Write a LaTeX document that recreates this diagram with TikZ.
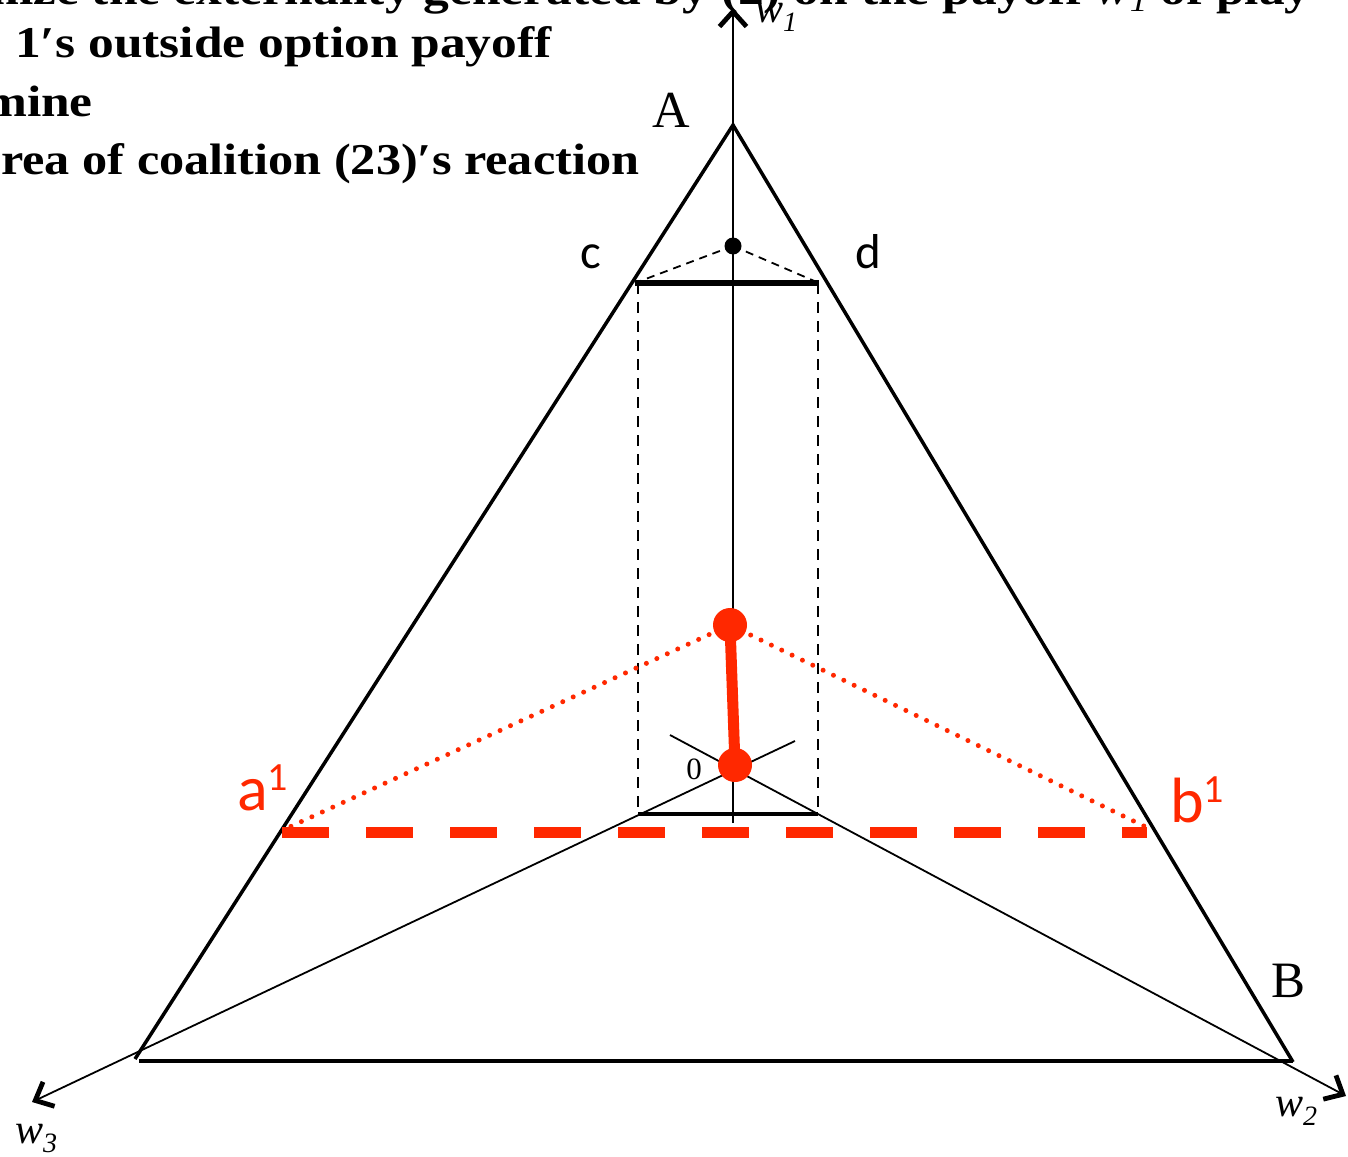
\documentclass[tikz,border=0pt]{standalone}
\usepackage{fontspec}
\setmainfont{Liberation Serif}
\newfontfamily\topfont[FakeStretch=1.17]{Liberation Serif}
\newfontfamily\calib{Carlito}
\usetikzlibrary{arrows.meta}
\definecolor{myred}{RGB}{255,40,0}
\begin{document}
\begin{tikzpicture}[x=1pt,y=-1pt,
  side/.style={line width=3.5pt},
  axis/.style={line width=1.8pt,-{Straight Barb[length=15pt,width=27pt,line width=4.8pt]}},
  vdash/.style={line width=2.5pt,dash pattern=on 11pt off 8pt},
  sdash/.style={line width=1.8pt,dash pattern=on 8pt off 6pt},
  reddot/.style={circle,fill=myred,inner sep=0pt,minimum size=34pt},
  reddots/.style={myred,line width=5pt,line cap=round,dash pattern=on 0pt off 11.5pt},
  toptext/.style={inner sep=0pt,font=\topfont\bfseries\fontsize{44}{44}\selectfont},
  lbl/.style={inner sep=0pt},
]
\useasboundingbox (0,0) rectangle (1348,1156);
\clip (0,0) rectangle (1348,1156);
\fill[white] (0,0) rectangle (1348,1156);

% key points
\coordinate (A) at (733,125);
\coordinate (L) at (135,1059);
\coordinate (R) at (1293,1062);
\coordinate (BL) at (139,1061);
\coordinate (BR) at (1293,1061);
\coordinate (w1base) at (733,823);
\coordinate (w1tip) at (733,8);
\coordinate (w3back) at (795,741);
\coordinate (w3tip) at (32,1102);
\coordinate (w2back) at (670,735);
\coordinate (w2tip) at (1346,1096);
\coordinate (c1) at (635,283);
\coordinate (d1) at (819,283);
\coordinate (ct) at (638,283);
\coordinate (dt) at (818,283);
\coordinate (cb) at (638,814);
\coordinate (db) at (818,814);
\coordinate (Pc) at (730,625);
\coordinate (Qc) at (735,765);
\coordinate (a1) at (283,830);
\coordinate (b1) at (1150,829);
\coordinate (ra) at (282,832);
\coordinate (rb) at (1147,832);

% header text
\node[toptext,anchor=base west] (t1) at (-24,5) {mize the externality generated by (2) on the payoff {\mdseries\itshape w}\raisebox{-7pt}{\mdseries\itshape\fontsize{30}{30}\selectfont 1} of play};
\node[toptext,anchor=base west] (t2) at (15,57) {1′s outside option payoff};
\node[toptext,anchor=base east] (t3) at (93,116) {mine};
\node[toptext,anchor=base west] (t4) at (1,174) {\scalebox{0.977}[1]{rea of coalition (23)′s reaction}};

% axes
\draw[axis] (w1base) -- (w1tip);
\draw[axis] (w3back) -- (w3tip);
\draw[axis] (w2back) -- (w2tip);

% triangle
\draw[side] (L) -- (A) -- (R);
\draw[side] (BL) -- (BR);

% rectangle c-d
\draw[vdash] (ct) -- (cb);
\draw[vdash] (dt) -- (db);
\draw[line width=4pt] (cb) -- (db);
\draw[line width=6.5pt] (c1) -- (d1);
\node[circle,fill=black,inner sep=0pt,minimum size=17pt] (top) at (733,246) {};
\draw[sdash] (top.center) -- (c1);
\draw[sdash] (top.center) -- (d1);

% red elements
\draw[myred,line width=11pt,dash pattern=on 47pt off 37pt] (ra) -- (rb);
\draw[reddots] (Pc) -- (a1);
\draw[reddots] (Pc) -- (b1);
\draw[myred,line width=11pt] (Pc) -- (Qc);
\node[reddot] (P) at (Pc) {};
\node[reddot] (Q) at (Qc) {};

% labels
\node[lbl,anchor=base,font=\fontsize{52}{52}\selectfont] (lA) at (671,127) {A};
\node[lbl,anchor=base,font=\fontsize{51}{51}\selectfont] (lB) at (1288,997) {B};
\node[lbl,anchor=base,font=\calib\fontsize{49}{49}\selectfont] (lc) at (591,268) {c};
\node[lbl,anchor=base,font=\calib\fontsize{49}{49}\selectfont] (ld) at (868,268) {d};
\node[lbl,anchor=base,font=\fontsize{31}{31}\selectfont] (l0) at (694,779) {0};
\node[lbl,anchor=base west,text=myred,font=\calib\fontsize{64}{64}\selectfont] (la) at (237,810) {a\raisebox{20pt}{\fontsize{40}{40}\selectfont 1}};
\node[lbl,anchor=base west,text=myred,font=\calib\fontsize{64}{64}\selectfont] (lb) at (1170,822) {b\raisebox{20pt}{\fontsize{40}{40}\selectfont 1}};
\node[lbl,anchor=base west,font=\itshape\fontsize{42}{42}\selectfont] (lw1) at (755,23) {w\raisebox{-9pt}{\fontsize{28}{28}\selectfont 1}};
\node[lbl,anchor=base west,font=\itshape\fontsize{42}{42}\selectfont] (lw2) at (1275,1116) {w\raisebox{-9pt}{\fontsize{28}{28}\selectfont 2}};
\node[lbl,anchor=base west,font=\itshape\fontsize{42}{42}\selectfont] (lw3) at (15,1143) {w\raisebox{-9pt}{\fontsize{28}{28}\selectfont 3}};
\end{tikzpicture}
\end{document}
